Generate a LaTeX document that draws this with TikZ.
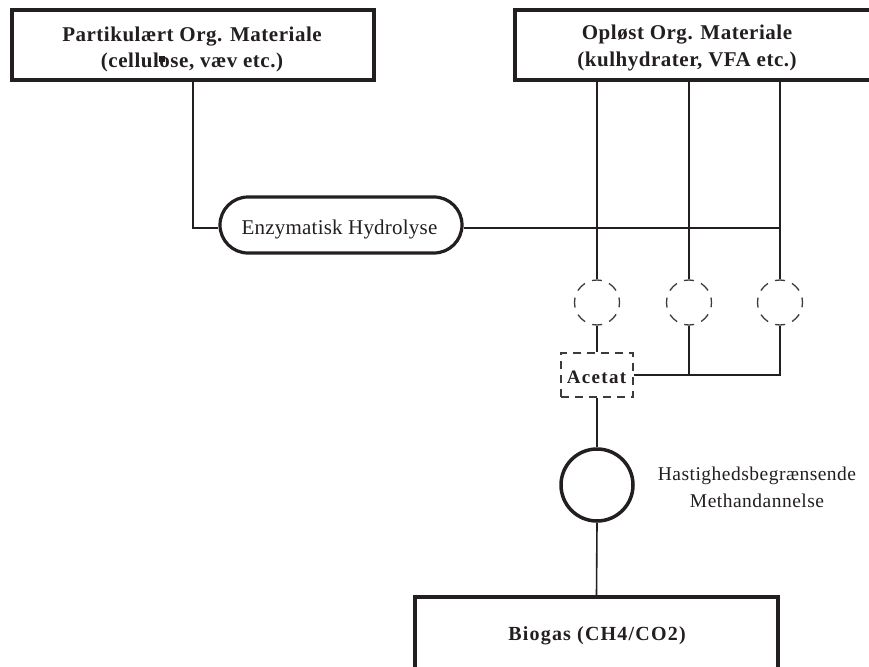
\documentclass[tikz,border=0pt]{standalone}
\usepackage{fontspec}
\setmainfont{Liberation Serif}
\usetikzlibrary{calc}
\definecolor{ink}{HTML}{231F20}
\definecolor{dashink}{HTML}{3C3C3C}
\newcommand{\tracked}[1]{\addfontfeature{LetterSpace=#1}}
\tikzset{
  bigbox/.style={draw=ink, line width=4pt, rectangle, inner sep=0pt},
  pill/.style={draw=ink, line width=3.2pt, rectangle, rounded corners=28pt,
    minimum width=242pt, minimum height=56pt, inner sep=0pt},
  dcircle/.style={draw=dashink, line width=1.3pt, circle, minimum size=45pt,
    inner sep=0pt, dash pattern=on 10pt off 7.67pt, dash phase=5pt},
  dbox/.style={draw=dashink, line width=1.3pt, rectangle, minimum width=72pt,
    minimum height=44pt, inner sep=0pt, dash pattern=on 8pt off 6pt},
  scircle/.style={draw=ink, line width=3.5pt, circle, minimum size=72pt, inner sep=0pt},
  link/.style={draw=ink, line width=1.6pt},
  boldlabel/.style={text=ink, font=\fontsize{21}{26}\selectfont\bfseries\tracked{2.5}, anchor=base, inner sep=0pt},
  plainlabel/.style={text=ink, font=\fontsize{21}{26}\selectfont, anchor=base, inner sep=0pt},
}
\begin{document}
\begin{tikzpicture}[x=1pt,y=-1pt]
\useasboundingbox (0,0) rectangle (869,666);
\fill[white] (0,0) rectangle (869,666);

% source boxes
\node[bigbox, minimum width=362pt, minimum height=70pt] (b1) at (193,45) {};
\node[bigbox, minimum width=365pt, minimum height=70pt] (b2) at (697.5,45) {};
\node[boldlabel] (t1a) at (192,42) {Partikulært Org. Materiale};
\node[boldlabel] (t1b) at (192,68) {(cellulose, væv etc.)};
\fill[ink] (159,56) rectangle (165,62);
\node[boldlabel] (t2a) at (687,40) {Opløst Org. Materiale};
\node[boldlabel] (t2b) at (687,67) {(kulhydrater, VFA etc.)};

% hydrolysis step
\node[pill] (hyd) at (341,225) {};
\node[plainlabel, font=\fontsize{21}{26}\selectfont\tracked{1}] (th) at (339.5,234) {Enzymatisk Hydrolyse};

% intermediate conversion steps
\node[dcircle] (c1) at (597,302.5) {};
\node[dcircle] (c2) at (689,302.5) {};
\node[dcircle] (c3) at (780,302.5) {};
\node[dbox] (ac) at (597,375) {};
\node[boldlabel, font=\fontsize{19}{22}\selectfont\bfseries\tracked{7}] (ta) at (596.5,383) {Acetat};

% methane formation
\node[plainlabel, font=\fontsize{19.5}{26}\selectfont\tracked{2.5}] (tm1) at (757,480) {Hastighedsbegrænsende};
\node[plainlabel, font=\fontsize{19.5}{26}\selectfont\tracked{2.5}] (tm2) at (757,507) {Methandannelse};
\node[scircle] (m) at (597,485) {};

% product box
\node[bigbox, minimum width=363pt, minimum height=90pt] (bio) at (596.5,642) {};
\node[boldlabel, font=\fontsize{20}{24}\selectfont\bfseries\tracked{6}] (tb) at (597,640) {Biogas (CH4/CO2)};

% connectors
\coordinate (k1) at (193,228);
\draw[link] (b1.south -| k1) -- (k1) -- (k1 -| hyd.west);
\draw[link] (hyd.east |- k1) -- (k1 -| c3);
\draw[link] (b2.south -| c1) -- (c1.north);
\draw[link] (b2.south -| c2) -- (c2.north);
\draw[link] (b2.south -| c3) -- (c3.north);
\draw[link] (c1.south) -- (ac.north);
\draw[link] (c2.south) -- (c2.south |- ac.east);
\draw[link] (c3.south) -- (c3.south |- ac.east) -- (ac.east);
\draw[link] (ac.south) -- (m.north);
\draw[link] (m.south) -- (bio.north);
\end{tikzpicture}
\end{document}
